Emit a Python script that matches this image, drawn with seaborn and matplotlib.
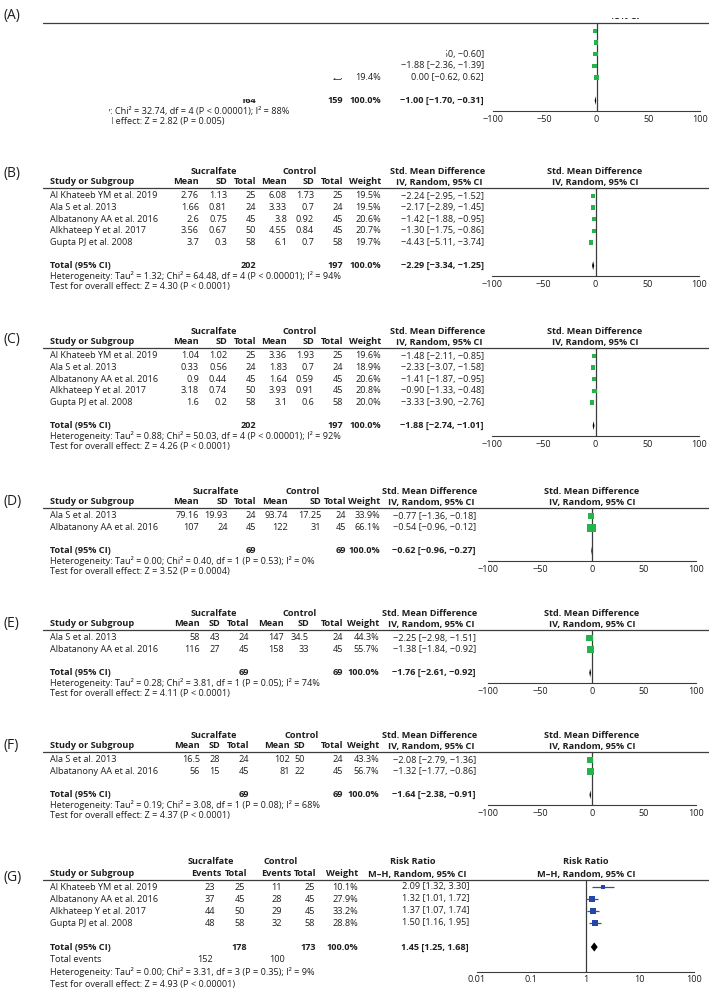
import numpy as np
import pandas as pd
import seaborn as sns
import matplotlib.pyplot as plt
from matplotlib.patches import Rectangle

# ---------------- data ----------------
studies_5 = ["Al Khateeb YM et al. 2019", "Ala S et al. 2013", "Albatanony AA et al. 2016",
             "Alkhateep Y et al. 2017", "Gupta PJ et al. 2008"]
studies_2 = ["Ala S et al. 2013", "Albatanony AA et al. 2016"]
studies_g = ["Al Khateeb YM et al. 2019", "Albatanony AA et al. 2016",
             "Alkhateep Y et al. 2017", "Gupta PJ et al. 2008"]

# panel A is mostly hidden in the source; effects
a_smd = [-1.6, -0.4, -1.1, -1.88, 0.00]
a_lo = [-2.3, -1.1, -1.6, -2.36, -0.62]
a_hi = [-0.9, 0.3, -0.60, -1.39, 0.62]
a_weight = [20.2, 20.0, 20.3, 20.1, 19.4]
a_total = (164, 159, -1.00, -1.70, -0.31)
a_het = "Heterogeneity: Chi\u00b2 = 32.74, df = 4 (P < 0.00001); I\u00b2 = 88%"
a_test = "Test for overall effect: Z = 2.82 (P = 0.005)"

# panel B
b_suc_mean = [2.76, 1.66, 2.6, 3.56, 3.7]
b_suc_sd = [1.13, 0.81, 0.75, 0.67, 0.3]
b_suc_n = [25, 24, 45, 50, 58]
b_ctl_mean = [6.08, 3.33, 3.8, 4.55, 6.1]
b_ctl_sd = [1.73, 0.7, 0.92, 0.84, 0.7]
b_ctl_n = [25, 24, 45, 45, 58]
b_weight = [19.5, 19.5, 20.6, 20.7, 19.7]
b_smd = [-2.24, -2.17, -1.42, -1.30, -4.43]
b_lo = [-2.95, -2.89, -1.88, -1.75, -5.11]
b_hi = [-1.52, -1.45, -0.95, -0.86, -3.74]
b_total = (202, 197, -2.29, -3.34, -1.25)
b_het = "Heterogeneity: Tau\u00b2 = 1.32; Chi\u00b2 = 64.48, df = 4 (P < 0.00001); I\u00b2 = 94%"
b_test = "Test for overall effect: Z = 4.30 (P < 0.0001)"

# panel C
c_suc_mean = [1.04, 0.33, 0.9, 3.18, 1.6]
c_suc_sd = [1.02, 0.56, 0.44, 0.74, 0.2]
c_suc_n = [25, 24, 45, 50, 58]
c_ctl_mean = [3.36, 1.83, 1.64, 3.93, 3.1]
c_ctl_sd = [1.93, 0.7, 0.59, 0.91, 0.6]
c_ctl_n = [25, 24, 45, 45, 58]
c_weight = [19.6, 18.9, 20.6, 20.8, 20.0]
c_smd = [-1.48, -2.33, -1.41, -0.90, -3.33]
c_lo = [-2.11, -3.07, -1.87, -1.33, -3.90]
c_hi = [-0.85, -1.58, -0.95, -0.48, -2.76]
c_total = (202, 197, -1.88, -2.74, -1.01)
c_het = "Heterogeneity: Tau\u00b2 = 0.88; Chi\u00b2 = 50.03, df = 4 (P < 0.00001); I\u00b2 = 92%"
c_test = "Test for overall effect: Z = 4.26 (P < 0.0001)"

# panel D
d_suc_mean = [79.16, 107]
d_suc_sd = [19.93, 24]
d_suc_n = [24, 45]
d_ctl_mean = [93.74, 122]
d_ctl_sd = [17.25, 31]
d_ctl_n = [24, 45]
d_weight = [33.9, 66.1]
d_smd = [-0.77, -0.54]
d_lo = [-1.36, -0.96]
d_hi = [-0.18, -0.12]
d_total = (69, 69, -0.62, -0.96, -0.27)
d_het = "Heterogeneity: Tau\u00b2 = 0.00; Chi\u00b2 = 0.40, df = 1 (P = 0.53); I\u00b2 = 0%"
d_test = "Test for overall effect: Z = 3.52 (P = 0.0004)"

# panel E
e_suc_mean = [58, 116]
e_suc_sd = [43, 27]
e_suc_n = [24, 45]
e_ctl_mean = [147, 158]
e_ctl_sd = [34.5, 33]
e_ctl_n = [24, 45]
e_weight = [44.3, 55.7]
e_smd = [-2.25, -1.38]
e_lo = [-2.98, -1.84]
e_hi = [-1.51, -0.92]
e_total = (69, 69, -1.76, -2.61, -0.92)
e_het = "Heterogeneity: Tau\u00b2 = 0.28; Chi\u00b2 = 3.81, df = 1 (P = 0.05); I\u00b2 = 74%"
e_test = "Test for overall effect: Z = 4.11 (P < 0.0001)"

# panel F
f_suc_mean = [16.5, 56]
f_suc_sd = [28, 15]
f_suc_n = [24, 45]
f_ctl_mean = [102, 81]
f_ctl_sd = [50, 22]
f_ctl_n = [24, 45]
f_weight = [43.3, 56.7]
f_smd = [-2.08, -1.32]
f_lo = [-2.79, -1.77]
f_hi = [-1.36, -0.86]
f_total = (69, 69, -1.64, -2.38, -0.91)
f_het = "Heterogeneity: Tau\u00b2 = 0.19; Chi\u00b2 = 3.08, df = 1 (P = 0.08); I\u00b2 = 68%"
f_test = "Test for overall effect: Z = 4.37 (P < 0.0001)"

# panel G (risk ratio)
g_suc_events = [23, 37, 44, 48]
g_suc_n = [25, 45, 50, 58]
g_ctl_events = [11, 28, 29, 32]
g_ctl_n = [25, 45, 45, 58]
g_weight = [10.1, 27.9, 33.2, 28.8]
g_rr = [2.09, 1.32, 1.37, 1.50]
g_lo = [1.32, 1.01, 1.07, 1.16]
g_hi = [3.30, 1.72, 1.74, 1.95]
g_total = (178, 173, 1.45, 1.25, 1.68)
g_events = (152, 100)
g_het = "Heterogeneity: Tau\u00b2 = 0.00; Chi\u00b2 = 3.31, df = 3 (P = 0.35); I\u00b2 = 9%"
g_test = "Test for overall effect: Z = 4.93 (P < 0.00001)"

# ---------------- style ----------------
sns.set_theme(style="white")
plt.rcParams['font.family'] = ['Open Sans', 'DejaVu Sans']

W, H = 709, 992
FS = 6.6
TXT = "#1e1e1e"
LINE = "#3c3c3c"
GREEN = "#25b34b"
BLUE = "#2446a6"
RS = 11.6

fig = plt.figure(figsize=(W / 100, H / 100), dpi=100)
canvas = fig.add_axes([0, 0, 1, 1])
canvas.set_xlim(0, W)
canvas.set_ylim(H, 0)
canvas.axis("off")


def t(x, y, s, ha="left", bold=False, size=FS, clip=None):
    obj = canvas.text(x, y, s, ha=ha, va="center", fontsize=size, color=TXT,
                      fontweight="bold" if bold else "normal")
    if clip is not None:
        # the source image has panel A partly blanked out
        obj.set_clip_path(Rectangle(clip[:2], clip[2], clip[3], transform=canvas.transData))
        obj.set_clip_on(True)
    return obj


def fmt(v):
    return f"{v:g}".replace("-", "\u2212")


def ci(e, lo, hi):
    return f"{e:.2f} [{lo:.2f}, {hi:.2f}]".replace("-", "\u2212")


def forest_axes(top, bottom, x0, x1, off, ticks, labels, xlim, log=False, zero=0, rs=RS):
    ax = fig.add_axes([x0 / W, 1 - bottom / H, (x1 - x0) / W, (bottom - top) / H])
    ax.set_facecolor("none")
    if log:
        ax.set_xscale("log")
    ax.set_xlim(*xlim)
    ax.set_ylim((bottom - top - off) / rs, -off / rs)
    ax.axvline(zero, color=LINE, lw=0.9, zorder=1)
    for s in ["left", "right", "top"]:
        ax.spines[s].set_visible(False)
    ax.spines["bottom"].set_color(LINE)
    ax.spines["bottom"].set_linewidth(0.8)
    ax.spines["bottom"].set_bounds(*xlim)
    ax.set_xticks(ticks)
    ax.set_xticklabels(labels)
    ax.minorticks_off()
    ax.set_yticks([])
    ax.tick_params(axis="x", direction="in", length=4, width=0.7, color=LINE,
                   labelsize=FS, labelcolor=TXT, pad=2.5)
    return ax


def draw_forest(ax, est, lo, hi, weight, tot, n, color, k, lc):
    df = pd.DataFrame({"row": np.arange(n), "est": est, "lo": lo, "hi": hi, "w": weight})
    ax.hlines(df["row"], df["lo"], df["hi"], color=lc, lw=0.9, zorder=2)
    sns.scatterplot(data=df, x="est", y="row", size="w", sizes=(0, k * 100),
                    size_norm=(0, 100), marker="s", color=color, linewidth=0,
                    legend=False, ax=ax, zorder=3)
    yt = n + 1
    ax.fill([tot[3], tot[2], tot[4], tot[2]], [yt, yt - 0.38, yt, yt + 0.38],
            color="black", lw=0, zorder=3)
    ax.set_xlabel("")
    ax.set_ylabel("")


SMD_TICKS = [-100, -50, 0, 50, 100]
SMD_LABELS = ["\u2212100", "\u221250", "0", "50", "100"]


def smd_panel(tag, L, lay, studies, cols, weight, est, lo, hi, tot, het, test, tag_dy):
    n = len(studies)
    ry = [L + 8 + RS * i for i in range(n + 3)]
    total_y = ry[n + 1]
    het_y = total_y + 10.5
    test_y = het_y + 10.5
    t(3, L - tag_dy, f"({tag})", size=10)
    # headers
    h1, h2 = L - 17, L - 6
    t(lay["suc"], h1, "Sucralfate", ha="center", bold=True)
    t(lay["ctl"], h1, "Control", ha="center", bold=True)
    t(lay["ci"] - 46, h1, "Std. Mean Difference", ha="center", bold=True)
    t(lay["zero"], h1, "Std. Mean Difference", ha="center", bold=True)
    t(50, h2, "Study or Subgroup", bold=True)
    for x, s in zip(lay["cols"], ["Mean", "SD", "Total", "Mean", "SD", "Total"]):
        t(x, h2, s, ha="right", bold=True)
    t(lay["w"], h2, "Weight", ha="right", bold=True)
    t(lay["ci"] - 45, h2, "IV, Random, 95% CI", ha="center", bold=True)
    t(lay["zero"], h2, "IV, Random, 95% CI", ha="center", bold=True)
    canvas.plot([43, W], [L, L], color=LINE, lw=0.9)
    # rows
    for i, name in enumerate(studies):
        t(50, ry[i], name)
        for x, col in zip(lay["cols"], cols):
            t(x, ry[i], fmt(col[i]), ha="right")
        t(lay["w"], ry[i], f"{weight[i]:.1f}%", ha="right")
        t(lay["ci"], ry[i], ci(est[i], lo[i], hi[i]), ha="right")
    t(50, total_y, "Total (95% CI)", bold=True)
    t(lay["cols"][2], total_y, str(tot[0]), ha="right", bold=True)
    t(lay["cols"][5], total_y, str(tot[1]), ha="right", bold=True)
    t(lay["w"], total_y, "100.0%", ha="right", bold=True)
    t(lay["ci"], total_y, ci(*tot[2:]), ha="right", bold=True)
    t(50, het_y, het)
    t(50, test_y, test)
    ax = forest_axes(L, het_y, lay["x0"], lay["x1"], 8, SMD_TICKS, SMD_LABELS, (-100, 100))
    draw_forest(ax, est, lo, hi, weight, tot, n, GREEN, 0.52, GREEN)


LAY_B = dict(cols=[199, 227, 256, 287, 314, 343], w=381, ci=484, suc=214, ctl=300,
             zero=595, x0=492, x1=699)
LAY_D = dict(cols=[199, 228, 256, 288, 321, 346], w=380, ci=476, suc=216, ctl=303,
             zero=592, x0=488, x1=696)
LAY_E = dict(cols=[200, 220, 249, 284, 309, 343], w=379, ci=476, suc=214, ctl=300,
             zero=592, x0=488, x1=696)
LAY_F = dict(cols=[200, 220, 249, 290, 305, 343], w=379, ci=476, suc=214, ctl=302,
             zero=592, x0=488, x1=696)

# ---------------- panel A (partly hidden in source) ----------------
LA = 23
rya = [LA + 8 + RS * i for i in range(7)]
t(3, LA - 7, "(A)", size=10)
canvas.plot([43, W], [LA, LA], color=LINE, lw=0.9)
t(596, LA - 6, "IV, Random, 95% CI", ha="center", bold=True, clip=(612, LA - 5.5, 40, 8))
t(484, rya[2], ci(a_smd[2], a_lo[2], a_hi[2]), ha="right", clip=(446, rya[2] - 8, 60, 16))
t(484, rya[3], ci(a_smd[3], a_lo[3], a_hi[3]), ha="right", clip=(400, rya[3] - 8, 100, 16))
t(343, rya[4], "25", ha="right", clip=(320, rya[4] + 1.0, 40, 10))
t(381, rya[4], f"{a_weight[4]:.1f}%", ha="right")
t(484, rya[4], ci(a_smd[4], a_lo[4], a_hi[4]), ha="right")
t(256, rya[6], str(a_total[0]), ha="right", bold=True, clip=(230, rya[6] - 1.5, 40, 12))
t(343, rya[6], str(a_total[1]), ha="right", bold=True)
t(381, rya[6], "100.0%", ha="right", bold=True)
t(484, rya[6], ci(*a_total[2:]), ha="right", bold=True)
a_het_y = rya[6] + 10.5
t(50, a_het_y, a_het, clip=(109, a_het_y - 8, 400, 16))
t(50, a_het_y + 10.5, a_test, clip=(112, a_het_y + 3, 300, 16))
ax_a = forest_axes(LA, a_het_y, 493, 700, 8, SMD_TICKS, SMD_LABELS, (-100, 100))
draw_forest(ax_a, a_smd, a_lo, a_hi, a_weight, a_total, 5, GREEN, 0.52, GREEN)

# ---------------- panels B-F ----------------
smd_panel("B", 188, LAY_B, studies_5,
          [b_suc_mean, b_suc_sd, b_suc_n, b_ctl_mean, b_ctl_sd, b_ctl_n],
          b_weight, b_smd, b_lo, b_hi, b_total, b_het, b_test, 14)
smd_panel("C", 348, LAY_B, studies_5,
          [c_suc_mean, c_suc_sd, c_suc_n, c_ctl_mean, c_ctl_sd, c_ctl_n],
          c_weight, c_smd, c_lo, c_hi, c_total, c_het, c_test, 8)
smd_panel("D", 508, LAY_D, studies_2,
          [d_suc_mean, d_suc_sd, d_suc_n, d_ctl_mean, d_ctl_sd, d_ctl_n],
          d_weight, d_smd, d_lo, d_hi, d_total, d_het, d_test, 7)
smd_panel("E", 630, LAY_E, studies_2,
          [e_suc_mean, e_suc_sd, e_suc_n, e_ctl_mean, e_ctl_sd, e_ctl_n],
          e_weight, e_smd, e_lo, e_hi, e_total, e_het, e_test, 7)
smd_panel("F", 752, LAY_F, studies_2,
          [f_suc_mean, f_suc_sd, f_suc_n, f_ctl_mean, f_ctl_sd, f_ctl_n],
          f_weight, f_smd, f_lo, f_hi, f_total, f_het, f_test, 6)

# ---------------- panel G ----------------
LG = 880
RG = 12.0
ryg = [LG + 7 + RG * i for i in range(6)]
t(3, LG - 3, "(G)", size=10)
t(211, LG - 18, "Sucralfate", ha="center", bold=True)
t(281, LG - 18, "Control", ha="center", bold=True)
t(413, LG - 18, "Risk Ratio", ha="center", bold=True)
t(586, LG - 18, "Risk Ratio", ha="center", bold=True)
t(50, LG - 6, "Study or Subgroup", bold=True)
for x, s in zip([222, 247, 291, 316], ["Events", "Total", "Events", "Total"]):
    t(x, LG - 6, s, ha="right", bold=True)
t(358, LG - 6, "Weight", ha="right", bold=True)
t(417, LG - 6, "M\u2013H, Random, 95% CI", ha="center", bold=True)
t(586, LG - 6, "M\u2013H, Random, 95% CI", ha="center", bold=True)
canvas.plot([43, W], [LG, LG], color=LINE, lw=0.9)
for i, name in enumerate(studies_g):
    t(50, ryg[i], name)
    for x, col in zip([215, 245, 282, 315], [g_suc_events, g_suc_n, g_ctl_events, g_ctl_n]):
        t(x, ryg[i], str(col[i]), ha="right")
    t(358, ryg[i], f"{g_weight[i]:.1f}%", ha="right")
    t(469, ryg[i], ci(g_rr[i], g_lo[i], g_hi[i]), ha="right")
gt_y = ryg[5]
t(50, gt_y, "Total (95% CI)", bold=True)
t(247, gt_y, str(g_total[0]), ha="right", bold=True)
t(316, gt_y, str(g_total[1]), ha="right", bold=True)
t(358, gt_y, "100.0%", ha="right", bold=True)
t(469, gt_y, ci(*g_total[2:]), ha="right", bold=True)
t(50, gt_y + 12.5, "Total events")
t(213, gt_y + 12.5, str(g_events[0]), ha="right")
t(285, gt_y + 12.5, str(g_events[1]), ha="right")
t(50, gt_y + 25, g_het)
t(50, gt_y + 37.5, g_test)
ax_g = forest_axes(LG, gt_y + 25, 477, 694, 7, [0.01, 0.1, 1, 10, 100],
                   ["0.01", "0.1", "1", "10", "100"], (0.01, 100), log=True, zero=1, rs=RG)
draw_forest(ax_g, g_rr, g_lo, g_hi, g_weight, g_total, 4, BLUE, 0.62, "#3d4f8f")

fig.savefig("out.png", dpi=100)
